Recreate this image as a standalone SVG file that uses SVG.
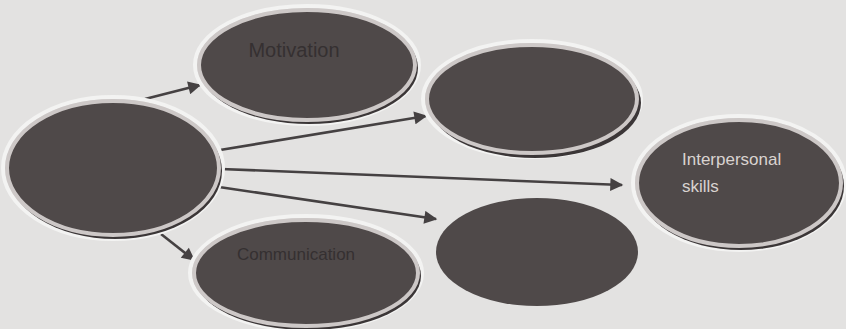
<svg xmlns="http://www.w3.org/2000/svg" width="846" height="329" viewBox="0 0 846 329">
<defs>
<style>
.bg{fill:#e3e2e1}
.halo{fill:none;stroke:#f3f3f2;stroke-width:4}
.shadow{fill:#3b3637}
.node{fill:#4f4949;stroke:#cdc8c7;stroke-width:4}
.plain{fill:#4f4949}
.edge{stroke:#454142;stroke-width:2.6;fill:none;marker-end:url(#ah)}
.dark{font-family:"Liberation Sans",Arial,sans-serif;fill:#353031}
.light{font-family:"Liberation Sans",Arial,sans-serif;fill:#d9d3d0;font-size:17px}
</style>
<marker id="ah" viewBox="0 0 10 10" refX="9" refY="5" markerWidth="5.5" markerHeight="5" orient="auto" markerUnits="strokeWidth">
<path d="M0,0 L10,5 L0,10 z" fill="#454142"/>
</marker>
</defs>
<rect class="bg" x="0" y="0" width="846" height="329"/>
<g id="connectors">
<line class="edge" x1="145" y1="99" x2="200" y2="85"/>
<line class="edge" x1="220" y1="150" x2="426" y2="116"/>
<line class="edge" x1="221" y1="169" x2="622" y2="185"/>
<line class="edge" x1="219" y1="187" x2="436" y2="219"/>
<line class="edge" x1="161" y1="234" x2="194" y2="260"/>
</g>
<g id="source">
<ellipse class="halo" cx="113" cy="168" rx="110" ry="71"/>
<ellipse class="shadow" cx="115" cy="171" rx="107" ry="68"/>
<ellipse class="node" cx="113" cy="168" rx="106" ry="67"/>
</g>
<g id="motivation">
<ellipse class="halo" cx="307" cy="65" rx="112" ry="59"/>
<ellipse class="shadow" cx="309" cy="68" rx="109" ry="56"/>
<ellipse class="node" cx="307" cy="65" rx="108" ry="55"/>
<text class="dark" x="294" y="57" font-size="20" text-anchor="middle">Motivation</text>
</g>
<g id="blank-top">
<ellipse class="halo" cx="532" cy="99" rx="109" ry="58"/>
<ellipse class="shadow" cx="535" cy="103" rx="106" ry="55"/>
<ellipse class="node" cx="532" cy="99" rx="105" ry="54"/>
</g>
<g id="interpersonal">
<ellipse class="halo" cx="739" cy="183" rx="106" ry="67"/>
<ellipse class="shadow" cx="741" cy="186" rx="103" ry="64"/>
<ellipse class="node" cx="739" cy="183" rx="102" ry="63"/>
<text class="light" x="682" y="165">Interpersonal</text>
<text class="light" x="682" y="192">skills</text>
</g>
<g id="blank-bottom">
<ellipse class="plain" cx="537" cy="252" rx="101" ry="54"/>
</g>
<g id="communication">
<ellipse class="halo" cx="306" cy="273" rx="116" ry="57"/>
<ellipse class="shadow" cx="308" cy="276" rx="113" ry="54"/>
<ellipse class="node" cx="306" cy="273" rx="112" ry="53"/>
<text class="dark" x="296" y="260" font-size="17" text-anchor="middle">Communication</text>
</g>
</svg>
